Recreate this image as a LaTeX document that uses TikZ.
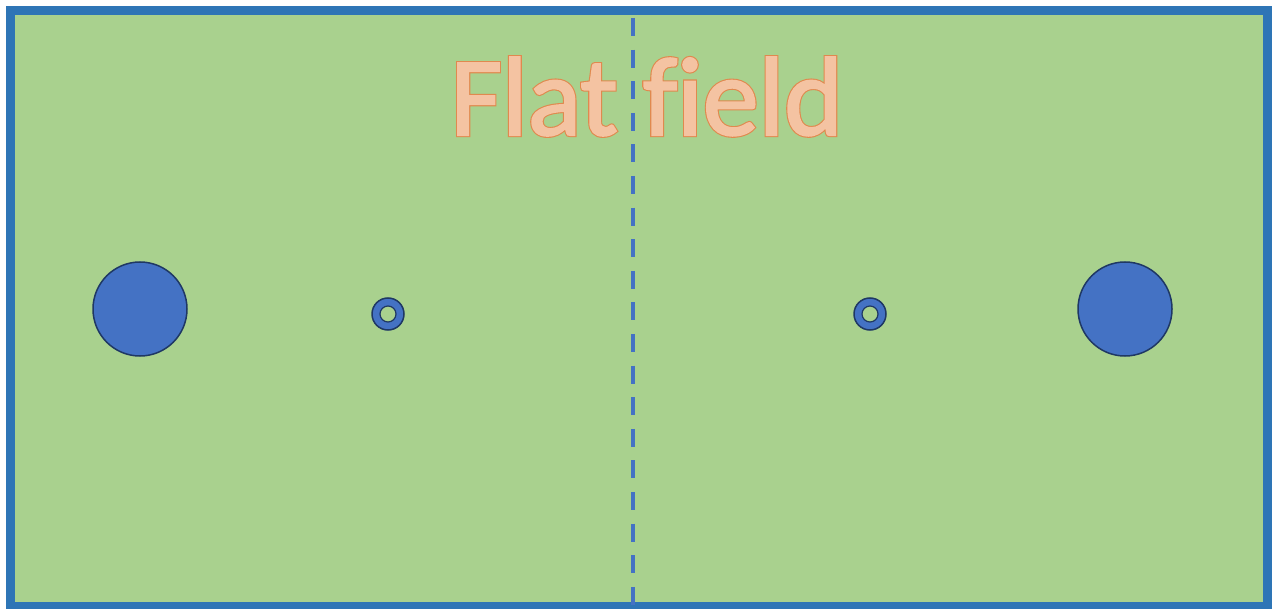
\documentclass[tikz,border=0pt]{standalone}
\usepackage{fontspec}
\setmainfont[Ligatures=NoCommon]{Carlito}
\definecolor{fieldgreen}{HTML}{A9D18E}
\definecolor{frameblue}{HTML}{2E75B6}
\definecolor{accblue}{HTML}{4472C4}
\definecolor{darkrim}{HTML}{1F3864}
\definecolor{peach}{HTML}{F4C3A2}
\definecolor{orangerim}{HTML}{E0894E}
\newcommand{\outlined}[1]{%
  \rlap{\special{pdf:literal direct 2 Tr 4.2 w 0.878 0.537 0.306 RG}#1\special{pdf:literal direct 0 Tr}}%
  \special{pdf:literal direct 2 Tr 2 w 0.957 0.765 0.635 RG}#1\special{pdf:literal direct 0 Tr}}
\begin{document}
\begin{tikzpicture}[x=1pt,y=-1pt,
  frame/.style={draw=frameblue,line width=9pt,fill=fieldgreen},
  midline/.style={draw=accblue,line width=4pt,dash pattern=on 18pt off 13.6pt},
  bigball/.style={circle,draw=darkrim,line width=1.5pt,fill=accblue,minimum size=94pt,inner sep=0pt},
  ring/.style={circle,draw=darkrim,line width=1.5pt,fill=accblue,minimum size=32pt,inner sep=0pt},
  hole/.style={circle,draw=darkrim,line width=1.2pt,fill=fieldgreen,minimum size=16pt,inner sep=0pt},
  title/.style={font=\fontsize{112}{112}\selectfont,text=peach,inner sep=0pt}]
\useasboundingbox (0,0) rectangle (1276,609);
\draw[frame] (10.5,10.5) rectangle (1267.5,606);
\coordinate (ltop) at (633,18);
\coordinate (lbot) at (633,605);
\draw[midline] (ltop) -- (lbot);
\node[bigball] (bl) at (140,309) {};
\node[bigball] (br) at (1125,309) {};
\node[ring] (rl) at (388,314) {};
\node[hole] (hl) at (388,314) {};
\node[ring] (rr) at (870,314) {};
\node[hole] (hr) at (870,314) {};
\node[title,anchor=base] (t) at (647,135) {\outlined{Flat field}};
\end{tikzpicture}
\end{document}
